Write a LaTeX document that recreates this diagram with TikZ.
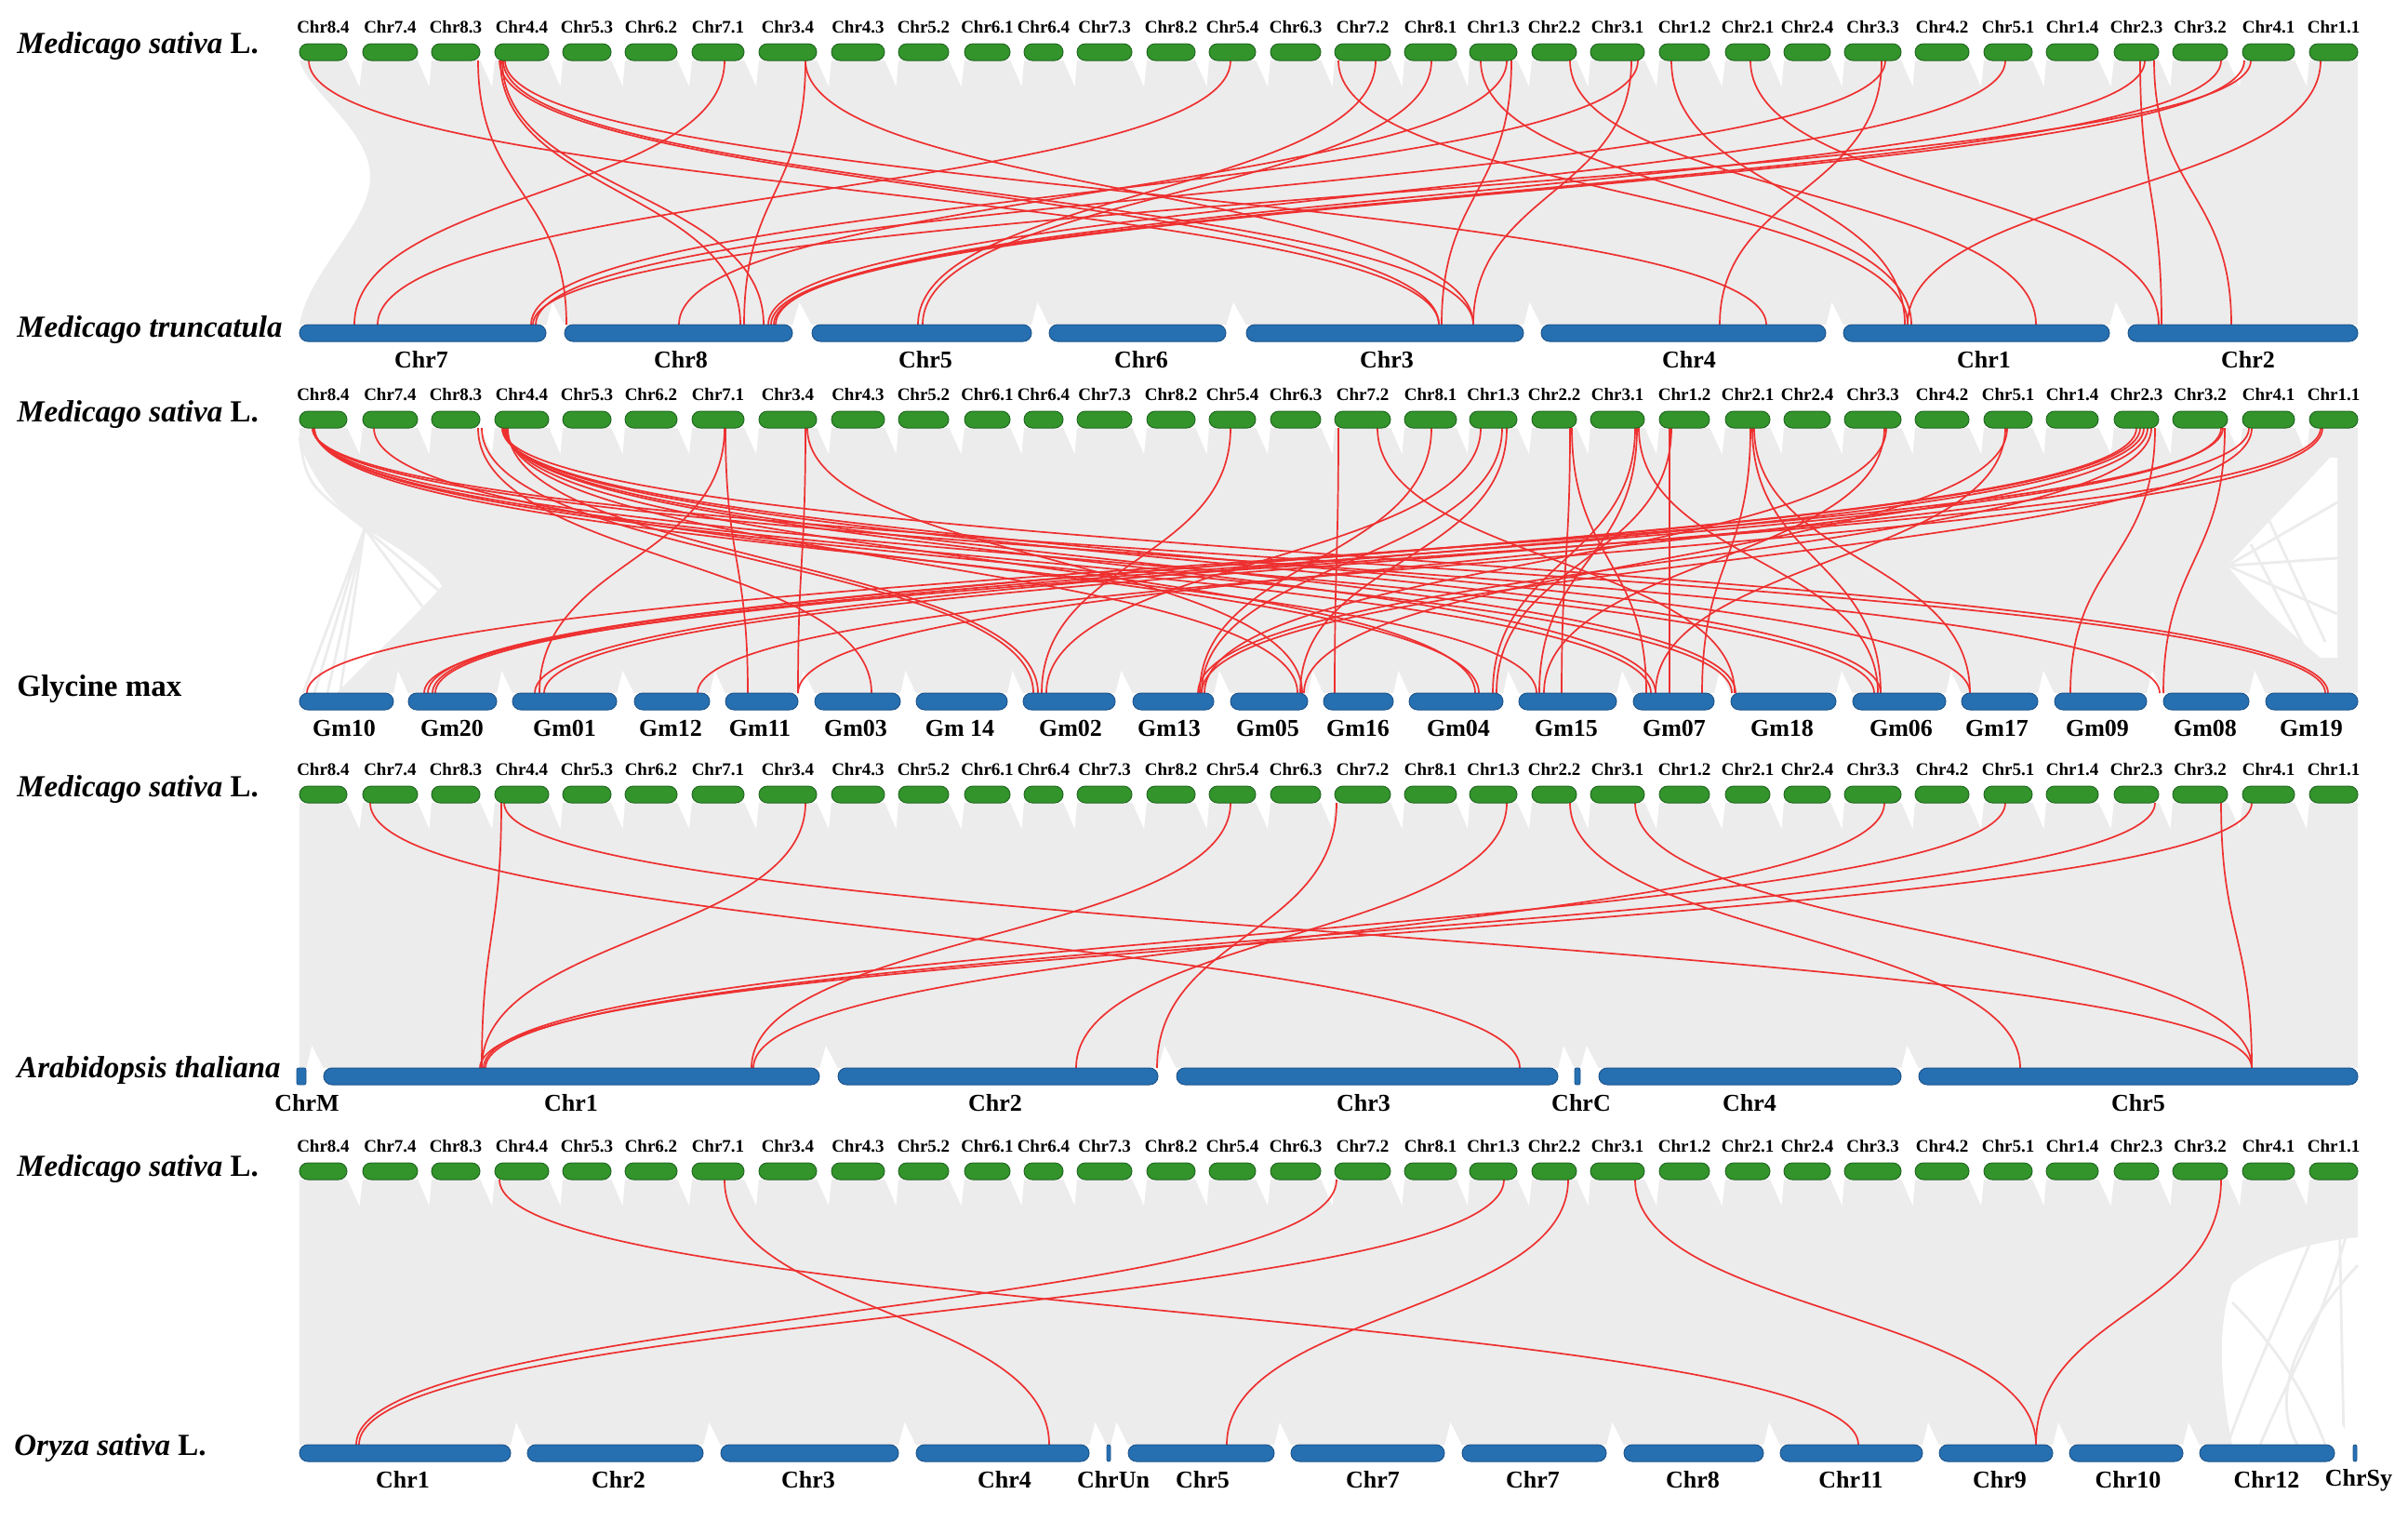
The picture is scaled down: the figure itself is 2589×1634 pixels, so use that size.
\documentclass[tikz,border=0pt]{standalone}
\usepackage{fontspec}
\setmainfont{Liberation Serif}
\definecolor{bgc}{RGB}{236,236,236}
\definecolor{gfill}{RGB}{50,148,42}
\definecolor{gdraw}{RGB}{35,105,35}
\definecolor{bfill}{RGB}{38,112,178}
\definecolor{bdraw}{RGB}{30,85,140}
\definecolor{lred}{RGB}{238,48,48}
\tikzset{
 gbar/.style={rectangle, rounded corners=4.5pt, fill=gfill, draw=gdraw, line width=0.5pt, minimum height=9pt, inner sep=0pt},
 bbar/.style={rectangle, rounded corners=4.5pt, fill=bfill, draw=bdraw, line width=0.5pt, minimum height=9pt, inner sep=0pt},
 sbar/.style={rectangle, rounded corners=1pt, fill=bfill, draw=bdraw, line width=0.4pt, minimum height=9pt, inner sep=0pt},
 glab/.style={font=\fontsize{9.5}{10}\selectfont\bfseries, inner sep=0pt},
 blab/.style={font=\fontsize{13}{15}\selectfont\bfseries, inner sep=0pt},
 splab/.style={font=\fontsize{16.5}{18}\selectfont\bfseries, inner sep=0pt, anchor=west},
 redlink/.style={draw=lred, line width=0.85pt},
 strand/.style={draw=bgc, line width=1.4pt},
}
\def\greenlist{322/373/Chr8.4/84,390/449/Chr7.4/74,464/516/Chr8.3/83,532/590/Chr4.4/44,605/657/Chr5.3/53,672/728/Chr6.2/62,744/800/Chr7.1/71,816/878/Chr3.4/34,894/951/Chr4.3/43,966/1020/Chr5.2/52,1037/1086/Chr6.1/61,1101/1143/Chr6.4/64,1158/1217/Chr7.3/73,1233/1285/Chr8.2/82,1300/1350/Chr5.4/54,1366/1420/Chr6.3/63,1435/1495/Chr7.2/72,1510/1566/Chr8.1/81,1580/1631/Chr1.3/13,1647/1695/Chr2.2/22,1710/1768/Chr3.1/31,1784/1838/Chr1.2/12,1855/1903/Chr2.1/21,1918/1968/Chr2.4/24,1983/2044/Chr3.3/33,2059/2117/Chr4.2/42,2133/2185/Chr5.1/51,2200/2256/Chr1.4/14,2273/2321/Chr2.3/23,2336/2395/Chr3.2/32,2411/2467/Chr4.1/41,2483/2535/Chr1.1/11}
\def\tlist{322/587/453/Chr7/7/bbar,607/852/732/Chr8/8/bbar,873/1109/995/Chr5/5/bbar,1128/1318/1227/Chr6/6/bbar,1340/1638/1491/Chr3/3/bbar,1657/1963/1816/Chr4/4/bbar,1982/2268/2133/Chr1/1/bbar,2288/2535/2417/Chr2/2/bbar}
\def\glist{322/423/370/Gm10/10/bbar,439/534/486/Gm20/20/bbar,551/663/607/Gm01/01/bbar,682/763/721/Gm12/12/bbar,780/858/817/Gm11/11/bbar,876/968/920/Gm03/03/bbar,985/1083/1032/Gm 14/14/bbar,1100/1199/1151/Gm02/02/bbar,1218/1305/1257/Gm13/13/bbar,1323/1406/1363/Gm05/05/bbar,1423/1498/1460/Gm16/16/bbar,1515/1616/1568/Gm04/04/bbar,1633/1738/1684/Gm15/15/bbar,1756/1843/1800/Gm07/07/bbar,1861/1974/1916/Gm18/18/bbar,1992/2092/2044/Gm06/06/bbar,2109/2191/2147/Gm17/17/bbar,2209/2308/2255/Gm09/09/bbar,2326/2418/2371/Gm08/08/bbar,2436/2535/2485/Gm19/19/bbar}
\def\alist{319/329/330/ChrM/M/sbar,348/881/614/Chr1/1/bbar,901/1245/1070/Chr2/2/bbar,1265/1675/1466/Chr3/3/bbar,1693/1699/1700/ChrC/C/sbar,1719/2044/1881/Chr4/4/bbar,2063/2535/2299/Chr5/5/bbar}
\def\olist{322/549/433/Chr1/1/bbar,567/756/665/Chr2/2/bbar,775/966/869/Chr3/3/bbar,985/1171/1080/Chr4/4/bbar,1190/1194/1197/ChrUn/Un/sbar,1213/1370/1293/Chr5/5/bbar,1388/1553/1476/Chr7/7/bbar,1572/1727/1648/Chr7/7b/bbar,1746/1896/1820/Chr8/8/bbar,1914/2067/1990/Chr11/11/bbar,2085/2207/2150/Chr9/9/bbar,2225/2347/2288/Chr10/10/bbar,2365/2510/2437/Chr12/12/bbar,2530/2534/2536/ChrSy/Sy/sbar}
\newcommand\greenrow[2]{%
 \foreach \xa/\xb/\lab/\nm in \greenlist {
   \node[gbar, minimum width={(\xb-\xa)*0.5pt}] (g#1-\nm) at ({(\xa+\xb)/2},#2) {};
   \node[glab] (gl#1-\nm) at ({(\xa+\xb)/2},#2-27) {\lab};
 }}
\newcommand\bluerow[3]{%
 \foreach \xa/\xb/\lx/\lab/\nm/\sty in #3 {
   \node[\sty, minimum width={(\xb-\xa)*0.5pt}] (b#1-\nm) at ({(\xa+\xb)/2},#2) {};
   \node[blab] (bl#1-\nm) at (\lx,#2+29) {\lab};
 }}
\newcommand\gwedges[1]{%
 \foreach \xa/\xb/\lab/\nm [remember=\xb as \prev (initially 0)] in \greenlist {
   \ifnum\prev>0 \fill[white] (\prev,#1-1) -- (\xa,#1-1) -- ({(\prev+\xa)/2+5},#1+28) -- cycle; \fi
 }}
\newcommand\bwedges[2]{%
 \foreach \xa/\xb/\lx/\lab/\nm/\sty [remember=\xb as \prev (initially 0)] in #2 {
   \ifnum\prev>0 \fill[white] (\prev,#1+1) -- (\xa,#1+1) -- ({(\prev+\xa)/2-3},#1-24) -- cycle; \fi
 }}
\newcommand\links[3]{%
 \pgfmathsetmacro\ymid{(#1+#2)/2}
 \foreach \a/\b in {#3} {
   \draw[redlink] (\a,#1) .. controls (\a,\ymid) and (\b,\ymid) .. (\b,#2);
 }}
\begin{document}
\begin{tikzpicture}[x=0.5pt,y=-0.5pt]
\useasboundingbox[fill=white] (0,0) rectangle (2589,1634);
% grey synteny bands
\fill[bgc] (322,65) -- (2535,65) -- (2535,349) -- (322,349) .. controls (332,290) and (398,240) .. (398,190) .. controls (398,140) and (332,100) .. (322,65) -- cycle;
\fill[bgc] (322,460) rectangle (2535,745);
\fill[bgc] (322,863) rectangle (2535,1148);
\fill[bgc] (322,1268) rectangle (2535,1553);
% lighter holes
\fill[white] (322,478) .. controls (340,520) and (360,545) .. (392,568) .. controls (430,590) and (465,612) .. (475,630) .. controls (440,670) and (390,715) .. (362,745) -- (322,745) -- cycle;
\draw[strand] (392,568) -- (326,745) (392,568) -- (338,745) (392,568) -- (352,745) (392,568) -- (366,742) (322,470) .. controls (330,520) .. (392,568) (392,568) -- (478,640) (392,568) -- (460,660);
\fill[white] (2513,492) -- (2513,707) -- (2495,707) .. controls (2450,670) and (2420,640) .. (2395,608) .. controls (2430,570) and (2470,530) .. (2505,492) -- cycle;
\draw[strand] (2395,608) -- (2513,540) (2395,608) -- (2513,600) (2395,608) -- (2513,660) (2420,585) -- (2480,700) (2440,560) -- (2500,690);
\fill[white] (2535,1330) -- (2535,1553) -- (2400,1553) .. controls (2385,1480) and (2385,1420) .. (2400,1380) .. controls (2440,1345) and (2490,1335) .. (2535,1330) -- cycle;
\draw[strand] (2530,1300) .. controls (2500,1420) and (2460,1480) .. (2430,1553) (2515,1300) -- (2520,1553) (2490,1320) .. controls (2450,1420) and (2420,1480) .. (2395,1553) (2535,1360) .. controls (2470,1430) and (2440,1500) .. (2470,1553) (2400,1400) .. controls (2450,1450) and (2480,1500) .. (2500,1553);
% white wedges at gaps
\gwedges{65}\gwedges{460}\gwedges{863}\gwedges{1268}
\bwedges{349}{\tlist}\bwedges{745}{\glist}\bwedges{1148}{\alist}\bwedges{1553}{\olist}
% red links
\links{65}{349}{332/1547, 537/1547, 541/1584, 866/1584, 543/1899, 514/609, 538/796, 540/821, 779/381, 866/800, 1323/406, 1479/987, 1539/992, 1620/730, 1754/1584, 1761/571, 2027/576, 2156/826, 2388/829, 2413/832, 2420/573, 2306/834, 1439/2051, 1592/2055, 1797/2048, 1688/2189, 1882/2321, 2301/2324, 2316/2399, 2495/2051, 2023/1849, 1625/1550}
\links{460}{745}{336/2500, 336/2322, 337/2015, 337/1862, 338/1775, 338/1652, 402/1590, 514/937, 518/1111, 540/2118, 541/2022, 542/1866, 543/1780, 544/1586, 545/1395, 546/1116, 540/2503, 779/580, 780/804, 866/858, 868/1400, 1323/1120, 1439/1435, 1481/1865, 1539/1290, 1592/1125, 1620/1398, 1615/1292, 1688/1679, 1690/1770, 1758/1605, 1760/1655, 1762/2019, 1795/1795, 1797/1609, 1882/1830, 1884/2022, 1886/2118, 2026/1660, 2028/1295, 2156/1780, 2158/1402, 2297/460, 2301/465, 2305/575, 2309/858, 2313/1288, 2317/2226, 2388/468, 2390/330, 2392/2326, 2418/585, 2421/1292, 2495/456, 2497/750}
\links{863}{1148}{398/1634, 539/518, 542/2421, 866/518, 1323/808, 2026/810, 1437/1244, 1620/1157, 1688/2172, 1758/2421, 2156/520, 2317/522, 2388/2421, 2421/516}
\links{1268}{1553}{537/1998, 779/1128, 1437/383, 1617/386, 1686/1319, 1758/2189, 2388/2189}
% chromosome bars
\greenrow{1}{56}\greenrow{2}{451}\greenrow{3}{854}\greenrow{4}{1259}
\bluerow{1}{358}{\tlist}
\bluerow{2}{754}{\glist}
\bluerow{3}{1157}{\alist}
\bluerow{4}{1562}{\olist}
% species names
\node[splab] (sp1) at (18,50) {\itshape Medicago sativa\/\upshape\ L.};
\node[splab] (sp2) at (18,355) {\itshape Medicago truncatula};
\node[splab] (sp3) at (18,446) {\itshape Medicago sativa\/\upshape\ L.};
\node[splab] (sp4) at (18,741) {Glycine max};
\node[splab] (sp5) at (18,849) {\itshape Medicago sativa\/\upshape\ L.};
\node[splab] (sp6) at (18,1151) {\itshape Arabidopsis thaliana};
\node[splab] (sp7) at (18,1257) {\itshape Medicago sativa\/\upshape\ L.};
\node[splab] (sp8) at (15,1557) {\itshape Oryza sativa\/\upshape\ L.};
\end{tikzpicture}
\end{document}
